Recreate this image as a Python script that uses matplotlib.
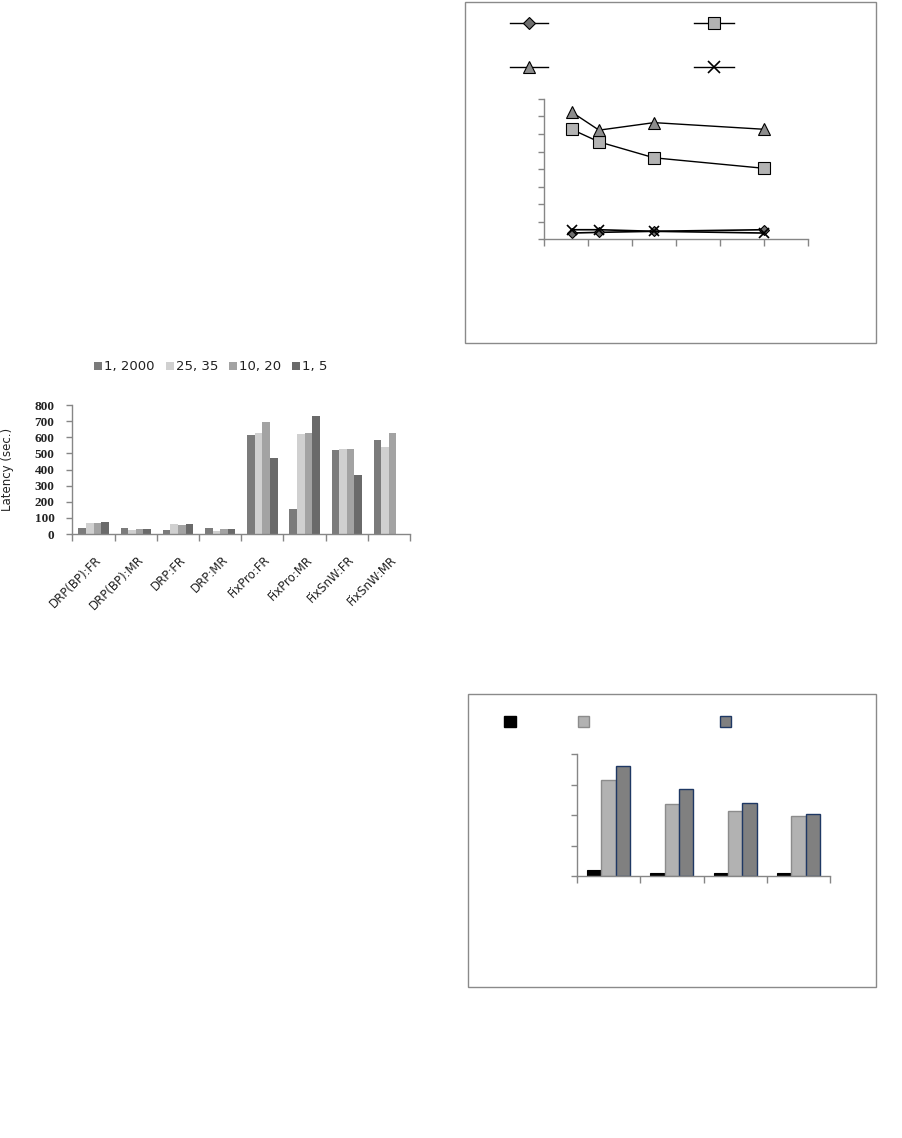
import matplotlib
matplotlib.use("Agg")
import matplotlib.pyplot as plt
import numpy as np
from matplotlib.lines import Line2D
from matplotlib.patches import Rectangle

# ---- left chart: latency per scheme ----
categories = ["DRP(BP):FR", "DRP(BP):MR", "DRP:FR", "DRP:MR",
              "FixPro:FR", "FixPro:MR", "FixSnW:FR", "FixSnW:MR"]
series_names = ["1, 2000", "25, 35", "10, 20", "1, 5"]
lat_1_2000 = [39, 39, 27, 39, 614, 157, 518, 584]
lat_25_35 = [66, 27, 60, 21, 627, 621, 528, 540]
lat_10_20 = [66, 33, 54, 33, 697, 627, 528, 627]
lat_1_5 = [72, 33, 60, 33, 474, 732, 363, 0]
bar_colors = ["#7b7b7b", "#d0d0d0", "#a3a3a3", "#6a6a6a"]

# ---- top right: line chart (no text in the scan) ----
line_x = [125, 250, 500, 1000]
line_diamond = [34, 38, 44, 53]
line_square = [627, 555, 464, 404]
line_triangle = [726, 622, 665, 627]
line_cross = [53, 53, 44, 34]

# ---- bottom right: grouped bars (no text in the scan) ----
group_vals_black = [0.20, 0.11, 0.11, 0.11]
group_vals_light = [3.14, 2.36, 2.12, 1.97]
group_vals_dark = [3.61, 2.84, 2.40, 2.02]

W, H = 903, 1138
fig = plt.figure(figsize=(W / 100, H / 100), dpi=100)
axis_gray = "#868686"


def px_axes(x0, y0, x1, y1):
    # pixel box (top-left origin) -> figure fraction axes
    return fig.add_axes([x0 / W, 1 - y1 / H, (x1 - x0) / W, (y1 - y0) / H])


def style_axes(ax):
    for side in ("top", "right"):
        ax.spines[side].set_visible(False)
    for side in ("left", "bottom"):
        ax.spines[side].set_color(axis_gray)
        ax.spines[side].set_linewidth(1)
    ax.tick_params(colors=axis_gray, length=4, width=1)


# ================= left bar chart =================
ax1 = px_axes(72.5, 405, 410, 534)
style_axes(ax1)
x = np.arange(len(categories))
bw = 0.18
all_series = [lat_1_2000, lat_25_35, lat_10_20, lat_1_5]
for i, (vals, name, col) in enumerate(zip(all_series, series_names, bar_colors)):
    ax1.bar(x + (i - 1.5) * bw, vals, bw, color=col, label=name, linewidth=0)
ax1.set_xlim(-0.5, len(categories) - 0.5)
ax1.set_ylim(0, 800)
ax1.set_yticks(np.arange(0, 801, 100))
ax1.set_yticklabels([str(v) for v in range(0, 801, 100)],
                    family="Liberation Serif", fontsize=9.5, fontweight="bold",
                    color="#222222")
ax1.tick_params(axis="y", pad=9)
ax1.set_xticks(np.arange(-0.5, len(categories), 1.0))
ax1.set_xticklabels([])
ax1.tick_params(axis="x", length=5)
for xi, name in zip(x, categories):
    ax1.annotate(name, (xi, 0), xycoords=("data", "axes fraction"),
                 xytext=(1, -14), textcoords="offset points",
                 rotation=45, ha="right", va="top", rotation_mode="anchor",
                 fontsize=8.5, color="#222222")
ax1.set_ylabel("Latency (sec.)", fontsize=8.5, color="#222222")
ax1.yaxis.set_label_coords(-0.172, 0.5)
ax1.legend(loc="center", bbox_to_anchor=(0.41, 1.295), ncol=4, frameon=False,
           handlelength=0.6, handleheight=0.6, handletextpad=0.15,
           columnspacing=0.85, fontsize=9.5, labelcolor="#222222")

# ================= top right line chart =================
fig.add_artist(Rectangle((465 / W, 1 - 343 / H), (876 - 465) / W, (343 - 2) / H,
                         transform=fig.transFigure, fill=False,
                         edgecolor="#8a8a8a", linewidth=1))
ax2 = px_axes(544, 99, 808, 239)
style_axes(ax2)
ax2.plot(line_x, line_diamond, color="black", lw=1.2, marker="D", ms=5,
         mfc="#6f6f6f", mec="black", mew=0.8)
ax2.plot(line_x, line_square, color="black", lw=1, marker="s", ms=8,
         mfc="#b3b3b3", mec="black", mew=0.8)
ax2.plot(line_x, line_triangle, color="black", lw=1, marker="^", ms=8,
         mfc="#8c8c8c", mec="black", mew=0.8)
ax2.plot(line_x, line_cross, color="black", lw=1.2, marker="x", ms=7, mew=1.2)
ax2.set_xlim(0, 1200)
ax2.set_ylim(0, 800)
ax2.set_xticks(np.arange(0, 1201, 200))
ax2.set_yticks(np.arange(0, 801, 100))
ax2.set_xticklabels([])
ax2.set_yticklabels([])
ax2.tick_params(axis="x", length=5)

legend_specs = [(510, 548, 23, dict(marker="D", ms=6, mfc="#6f6f6f", mec="black")),
                (694, 734, 23, dict(marker="s", ms=8, mfc="#b3b3b3", mec="black")),
                (510, 548, 67, dict(marker="^", ms=8, mfc="#8c8c8c", mec="black")),
                (694, 734, 67, dict(marker="x", ms=8, mew=1.2, color="black"))]
for x0, x1, yy, kw in legend_specs:
    fig.add_artist(Line2D([x0 / W, x1 / W], [1 - yy / H] * 2,
                          transform=fig.transFigure, color="black", lw=1))
    fig.add_artist(Line2D([(x0 + x1) / 2 / W], [1 - yy / H],
                          transform=fig.transFigure, mew=kw.pop("mew", 0.8),
                          linestyle="none", **kw))

# ================= bottom right bar chart =================
fig.add_artist(Rectangle((468 / W, 1 - 987 / H), (876 - 468) / W, (987 - 694) / H,
                         transform=fig.transFigure, fill=False,
                         edgecolor="#8a8a8a", linewidth=1))
ax3 = px_axes(577, 754, 830, 876)
style_axes(ax3)
gx = np.arange(len(group_vals_black))
gw = 0.227
ax3.bar(gx - gw, group_vals_black, gw, color="black", edgecolor="black", lw=0.8)
ax3.bar(gx, group_vals_light, gw, color="#b2b2b2", edgecolor="#8c8c8c", lw=1)
ax3.bar(gx + gw, group_vals_dark, gw, color="#808080", edgecolor="#1f3864", lw=1)
ax3.set_xlim(-0.5, len(gx) - 0.5)
ax3.set_ylim(0, 4)
ax3.set_yticks(np.arange(0, 5, 1))
ax3.set_yticklabels([])
ax3.set_xticks(np.arange(-0.5, len(gx), 1.0))
ax3.set_xticklabels([])
ax3.tick_params(axis="x", length=5)

for xx, fc, ec in [(510, "black", "black"), (583, "#b2b2b2", "#8c8c8c"),
                   (726, "#808080", "#1f3864")]:
    fig.add_artist(Rectangle(((xx - 5.5) / W, 1 - 726.5 / H), 11 / W, 11 / H,
                             transform=fig.transFigure, facecolor=fc,
                             edgecolor=ec, linewidth=1))

fig.savefig("out.png", dpi=100)
